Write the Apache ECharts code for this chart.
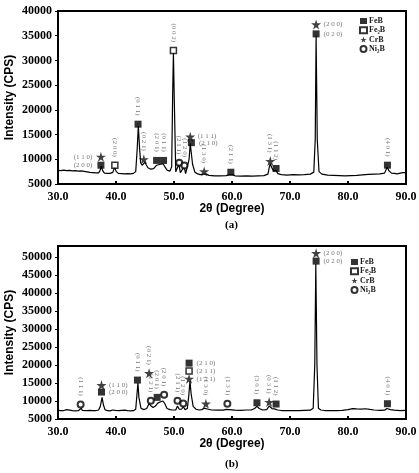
<!DOCTYPE html>
<html>
<head>
<meta charset="utf-8">
<script src="https://cdn.jsdelivr.net/npm/echarts@6/dist/echarts.min.js"></script>
<style>
  html, body { margin: 0; padding: 0; background: #fff; }
  #chart { width: 419px; height: 473px; }
</style>
</head>
<body>
<div id="chart"></div>
<script>
  // XRD pattern (a) - 2theta / counts
  var thetaA = [30.0, 30.5, 31.0, 31.5, 32.0, 32.5, 33.0, 33.5, 34.0, 34.3, 35.0, 35.5, 36.0, 36.5, 37.0, 37.25, 37.45, 37.7, 38.0, 38.5, 39.0, 39.45, 39.75, 40.05, 40.4, 41.0, 41.5, 42.0, 42.5, 43.0, 43.4, 43.65, 43.85, 44.05, 44.25, 44.5, 44.8, 45.0, 45.2, 45.5, 46.0, 46.5, 47.0, 47.3, 47.7, 48.1, 48.4, 48.8, 49.3, 49.6, 49.78, 49.9, 50.05, 50.3, 50.6, 50.85, 51.1, 51.4, 51.75, 52.0, 52.3, 52.6, 52.8, 52.95, 53.2, 53.6, 54.0, 54.5, 55.0, 55.3, 55.6, 56.0, 57.0, 58.0, 59.0, 59.5, 59.8, 60.1, 60.5, 61.5, 62.5, 63.5, 64.5, 65.5, 66.2, 66.45, 66.6, 66.85, 67.2, 67.55, 67.9, 68.5, 69.5, 70.5, 71.5, 72.5, 73.5, 74.1, 74.35, 74.5, 74.7, 75.0, 75.5, 76.5, 77.5, 78.5, 79.5, 80.5, 81.5, 82.5, 83.5, 84.5, 85.5, 86.3, 86.75, 87.1, 87.5, 88.0, 88.5, 89.0, 89.5, 90.0];
  var countsA = [7750, 7700, 7800, 7700, 7750, 7650, 7700, 7600, 7650, 7400, 7450, 7350, 7300, 7250, 7250, 7700, 8600, 7700, 7200, 7150, 7150, 7350, 8400, 7500, 7150, 7100, 7050, 7100, 7050, 7150, 7500, 12000, 16800, 12500, 9300, 8800, 9200, 9400, 8900, 8300, 8000, 8100, 8800, 9200, 9000, 9100, 8700, 7800, 7600, 8500, 24000, 31500, 22000, 7500, 7300, 9000, 7300, 7400, 8500, 7100, 7300, 10000, 13200, 12800, 9000, 7400, 7100, 6900, 7000, 7400, 7000, 6750, 6650, 6650, 6700, 6900, 7200, 6900, 6650, 6600, 6650, 6600, 6650, 6700, 7000, 8500, 9100, 8300, 7600, 7800, 7100, 6900, 6800, 6900, 6850, 6900, 7000, 7400, 14000, 35000, 14000, 7500, 7000, 6800, 6750, 6700, 6650, 6700, 6750, 6850, 6950, 7000, 7050, 7200, 8400, 7600, 7200, 7150, 7050, 7200, 7300, 7300];

  // XRD pattern (b)
  var thetaB = [30.0, 30.5, 31.0, 31.5, 31.8, 32.5, 33.0, 33.5, 33.8, 34.0, 34.2, 35.0, 35.5, 36.0, 36.5, 37.0, 37.3, 37.6, 37.85, 38.1, 38.5, 39.0, 39.4, 39.6, 39.9, 40.5, 41.0, 41.5, 42.0, 42.5, 43.0, 43.4, 43.6, 43.78, 43.95, 44.3, 44.8, 45.3, 45.7, 46.0, 46.4, 46.8, 47.2, 47.7, 48.1, 48.4, 48.8, 49.3, 49.8, 50.3, 50.6, 50.9, 51.3, 51.6, 51.9, 52.3, 52.55, 52.75, 52.95, 53.3, 53.8, 54.3, 54.8, 55.2, 55.5, 55.9, 56.5, 57.5, 58.5, 59.0, 59.25, 59.5, 60.5, 61.5, 62.5, 63.3, 63.9, 64.3, 64.7, 65.3, 66.0, 66.4, 66.6, 66.9, 67.3, 67.6, 67.9, 68.5, 69.5, 70.5, 71.5, 72.5, 73.5, 74.0, 74.27, 74.45, 74.65, 74.9, 75.3, 76.0, 77.0, 78.0, 79.0, 80.0, 80.8, 81.5, 82.3, 83.0, 83.8, 84.5, 85.5, 86.3, 86.7, 86.95, 87.3, 88.0, 89.0, 90.0];
  var countsB = [7400, 7300, 7350, 7600, 7400, 7300, 7250, 7300, 7500, 8000, 7400, 7300, 7400, 7350, 7300, 7500, 8500, 11000, 8800, 7600, 7300, 7250, 7500, 7900, 7400, 7300, 7400, 7450, 7300, 7250, 7300, 7700, 11500, 15000, 11000, 8000, 7600, 7900, 9300, 8700, 8200, 8600, 9400, 9800, 10000, 9300, 7900, 7600, 7500, 7500, 8600, 7700, 7700, 8400, 7600, 7900, 11500, 15500, 12000, 8500, 7700, 7500, 7600, 8000, 8400, 7700, 7500, 7450, 7450, 7650, 8000, 7600, 7450, 7400, 7500, 7500, 7900, 8500, 7900, 7500, 7600, 8600, 8900, 7900, 7800, 8000, 7500, 7350, 7300, 7300, 7350, 7400, 7450, 8000, 20000, 48000, 20000, 8000, 7500, 7350, 7300, 7350, 7400, 7600, 7900, 7800, 7750, 7850, 7650, 7500, 7400, 7450, 7900, 8200, 7600, 7450, 7350, 7400];

  // phase markers [2theta, intensity]
  var feB_a  = [[37.4, 8800], [43.8, 17100], [47.0, 9770], [48.2, 9770], [53.0, 13360], [59.8, 7380], [67.6, 8140], [74.5, 35370], [86.8, 8810]];
  var fe2B_a = [[39.8, 8800], [49.9, 32000]];
  var crB_a  = [[37.4, 10500], [44.8, 10000], [52.8, 14580], [55.2, 7530], [66.6, 9630], [74.5, 37280]];
  var ni2B_a = [[50.9, 9280], [51.8, 8750]];

  var feB_b  = [[37.5, 12470], [43.7, 15800], [47.1, 11000], [52.6, 20500], [64.3, 9500], [67.6, 9150], [74.5, 48800], [86.8, 9240]];
  var fe2B_b = [[52.6, 18300]];
  var crB_b  = [[37.5, 14400], [45.7, 17700], [52.6, 16150], [55.5, 9240], [66.4, 9700], [74.5, 51000]];
  var ni2B_b = [[33.9, 9040], [46.0, 10070], [48.3, 11700], [50.6, 10070], [51.6, 9300], [59.2, 9240]];

  // Miller indices: vertical labels above markers, and side labels
  var upLabelsA = [[39.8, 8800, '(2 0 0)'], [43.8, 17100, '(0 1 1)'], [44.8, 10000, '(0 2 1)'], [47.0, 9770, '(2 0 1)'], [48.2, 9770, '(0 1 1)'], [49.9, 32000, '(0 0 2)'], [50.9, 9280, '(2 1 1)'], [51.8, 8750, '(1 2 0)'], [55.2, 7530, '(1 3 0)'], [59.8, 7380, '(2 1 1)'], [66.6, 9630, '(1 3 1)'], [67.6, 8140, '(1 1 2)'], [86.8, 8810, '(4 0 1)']];
  var leftLabelsA = [[37.4, 10500, '(1 1 0)'], [37.4, 8800, '(2 0 0)']];
  var rightLabelsA = [[52.8, 14580, '(1 1 1)'], [53.0, 13360, '(2 1 0)'], [74.5, 37280, '(2 0 0)'], [74.5, 35370, '(0 2 0)']];

  var upLabelsB = [[33.9, 9040, '(1 1 1)'], [43.7, 15800, '(0 1 1)'], [45.7, 17700, '(0 2 1)'], [46.0, 10070, '(1 2 1)'], [47.1, 11000, '(2 0 1)'], [48.3, 11700, '(2 0 1)'], [50.6, 10070, '(2 1 1)'], [51.6, 9300, '(1 2 0)'], [55.5, 9240, '(1 3 0)'], [59.2, 9240, '(1 3 1)'], [64.3, 9500, '(3 0 1)'], [66.4, 9700, '(0 3 1)'], [67.6, 9150, '(1 1 2)'], [86.8, 9240, '(4 0 1)']];
  var leftLabelsB = [];
  var rightLabelsB = [[37.5, 14400, '(1 1 0)'], [37.5, 12470, '(2 0 0)'], [52.6, 20500, '(2 1 0)'], [52.6, 18300, '(2 1 1)'], [52.6, 16150, '(1 1 1)'], [74.5, 51000, '(2 0 0)'], [74.5, 48800, '(0 2 0)']];

  var phaseNames = ['FeB', 'Fe₂B', 'CrB', 'Ni₂B'];
  var panelTags = ['(a)', '(b)'];

  var STAR = 'path://M50,0 L61,35 L98,35 L68,57 L79,91 L50,70 L21,91 L32,57 L2,35 L39,35 Z';
  var serif = '"Liberation Serif", "Times New Roman", serif';
  var sans = '"Liberation Sans", Arial, sans-serif';

  var chart = echarts.init(document.getElementById('chart'));

  function zip(xs, ys) {
    return xs.map(function (x, i) { return [x, ys[i]]; });
  }

  function xAxisFor(idx) {
    return {
      gridIndex: idx, type: 'value', min: 30, max: 90, interval: 10,
      name: '2θ (Degree)', nameLocation: 'middle', nameGap: 19, nameMoveOverlap: false,
      nameTextStyle: { fontFamily: sans, fontWeight: 'bold', fontSize: 12, color: '#000' },
      axisLine: { lineStyle: { color: '#000', width: 2 } },
      axisTick: { inside: true, length: 3, lineStyle: { color: '#000', width: 2 } },
      axisLabel: { margin: 7, fontFamily: serif, fontWeight: 'bold', fontSize: 12, color: '#000',
        formatter: function (v) { return v.toFixed(1); } },
      splitLine: { show: false }
    };
  }

  function yAxisFor(idx, max) {
    return {
      gridIndex: idx, type: 'value', min: 5000, max: max, interval: 5000,
      name: 'Intensity (CPS)', nameLocation: 'middle', nameGap: 42, nameMoveOverlap: false,
      nameTextStyle: { fontFamily: sans, fontWeight: 'bold', fontSize: 12, color: '#000' },
      axisLine: { lineStyle: { color: '#000', width: 2 } },
      axisTick: { length: 3, lineStyle: { color: '#000', width: 1 } },
      axisLabel: { margin: 6, fontFamily: serif, fontWeight: 'bold', fontSize: 12, color: '#000',
        showMaxLabel: max % 5000 === 0, formatter: function (v) { return String(v); } },
      splitLine: { show: false }
    };
  }

  function markerSeries(idx, name, data) {
    var style = {
      'FeB':  { symbol: 'rect', size: 7, itemStyle: { color: '#000' } },
      'Fe₂B': { symbol: 'rect', size: 6, itemStyle: { color: '#fff', borderColor: '#000', borderWidth: 1.5 } },
      'CrB':  { symbol: STAR, size: 10, itemStyle: { color: '#111' } },
      'Ni₂B': { symbol: 'circle', size: 6, itemStyle: { color: '#fff', borderColor: '#000', borderWidth: 2 } }
    }[name];
    return {
      name: name, type: 'scatter', xAxisIndex: idx, yAxisIndex: idx,
      symbol: style.symbol, symbolSize: style.size, itemStyle: style.itemStyle,
      data: data, z: 5, silent: true
    };
  }

  var labelFont = { fontFamily: serif, fontSize: 7, color: '#555' };

  function labelSeries(idx, data, where) {
    var label = Object.assign({ show: true, formatter: function (p) { return p.value[2]; } }, labelFont);
    if (where === 'up') {
      Object.assign(label, { position: 'top', distance: 5, rotate: -90, align: 'right', verticalAlign: 'middle' });
    } else if (where === 'left') {
      Object.assign(label, { position: 'left', distance: 5 });
    } else {
      Object.assign(label, { position: 'right', distance: 4 });
    }
    return {
      type: 'scatter', xAxisIndex: idx, yAxisIndex: idx, symbolSize: 7, symbol: 'rect',
      itemStyle: { color: 'rgba(0,0,0,0)' }, label: label, labelLayout: { hideOverlap: false },
      data: data, z: 6, silent: true
    };
  }

  function lineSeries(idx, xs, ys) {
    return {
      type: 'line', xAxisIndex: idx, yAxisIndex: idx, data: zip(xs, ys),
      showSymbol: false, symbol: 'none', lineStyle: { color: '#000', width: 1.2 }, z: 3, silent: true
    };
  }

  var gridBox = { show: true, borderColor: '#000', borderWidth: 2, backgroundColor: 'transparent',
    containLabel: false, outerBoundsMode: 'none' };

  chart.setOption({
    animation: false,
    backgroundColor: '#fff',
    grid: [
      Object.assign({ left: 58, top: 11, width: 348, height: 173 }, gridBox),
      Object.assign({ left: 58, top: 246, width: 348, height: 173 }, gridBox)
    ],
    xAxis: [xAxisFor(0), xAxisFor(1)],
    yAxis: [yAxisFor(0, 40000), yAxisFor(1, 53000)],
    legend: [
      { orient: 'vertical', left: 359, top: 17, itemWidth: 7, itemHeight: 6, itemGap: 1.3, data: phaseNames,
        textStyle: { fontFamily: serif, fontWeight: 'bold', fontSize: 8, lineHeight: 6, color: '#222', padding: [0, 0, 0, -3] }, padding: 0, selectedMode: false },
      { orient: 'vertical', left: 350, top: 258, itemWidth: 7, itemHeight: 6, itemGap: 1.3, data: phaseNames,
        textStyle: { fontFamily: serif, fontWeight: 'bold', fontSize: 8, lineHeight: 6, color: '#222', padding: [0, 0, 0, -3] }, padding: 0, selectedMode: false }
    ],
    graphic: [
      { type: 'text', left: 225, top: 220, style: { text: panelTags[0], font: 'bold 11px ' + serif, fill: '#000' } },
      { type: 'text', left: 225, top: 459, style: { text: panelTags[1], font: 'bold 11px ' + serif, fill: '#000' } }
    ],
    series: [
      lineSeries(0, thetaA, countsA),
      lineSeries(1, thetaB, countsB),
      markerSeries(0, 'FeB', feB_a),
      markerSeries(0, 'Fe₂B', fe2B_a),
      markerSeries(0, 'CrB', crB_a),
      markerSeries(0, 'Ni₂B', ni2B_a),
      markerSeries(1, 'FeB', feB_b),
      markerSeries(1, 'Fe₂B', fe2B_b),
      markerSeries(1, 'CrB', crB_b),
      markerSeries(1, 'Ni₂B', ni2B_b),
      labelSeries(0, upLabelsA, 'up'),
      labelSeries(0, leftLabelsA, 'left'),
      labelSeries(0, rightLabelsA, 'right'),
      labelSeries(1, upLabelsB, 'up'),
      labelSeries(1, leftLabelsB, 'left'),
      labelSeries(1, rightLabelsB, 'right')
    ]
  });
</script>
</body>
</html>
